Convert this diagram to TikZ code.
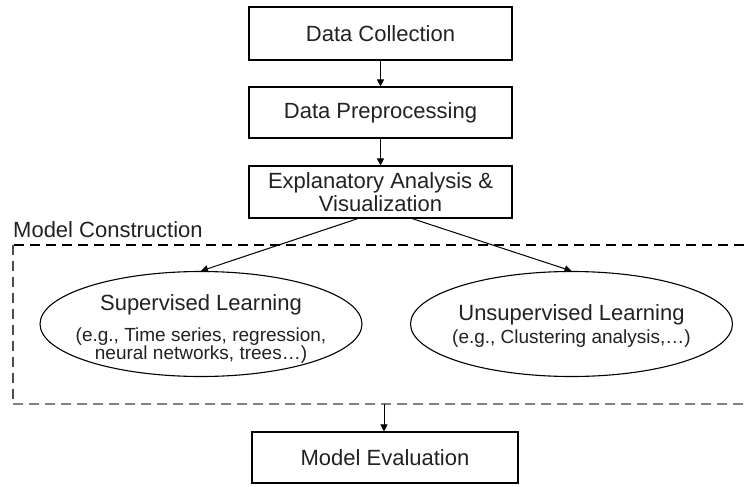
\documentclass[tikz,border=0pt]{standalone}
\usepackage{fontspec}
\setmainfont{Liberation Sans}
\usetikzlibrary{shapes.geometric,arrows.meta,calc}
\definecolor{txt}{HTML}{222222}
\begin{document}
\begin{tikzpicture}[x=1pt,y=-1pt,
  stepbox/.style={draw=black,line width=1.1pt,rectangle,inner sep=0pt,text=txt,
     font=\fontsize{22}{23.5}\selectfont,align=center},
  oval/.style={draw=black,line width=1.1pt,ellipse,inner sep=0pt,minimum width=322pt,minimum height=105pt},
  conn/.style={draw=black,line width=1pt,-{Triangle[length=7pt,width=7pt]}},
  big/.style={font=\fontsize{22}{23}\selectfont,text=txt,align=center,inner sep=0pt},
  small/.style={font=\fontsize{19}{18}\selectfont,text=txt,align=center,inner sep=0pt}]
\useasboundingbox (0,0) rectangle (744,487);
\fill[white] (0,0) rectangle (744,487);

\node[stepbox,minimum width=263pt,minimum height=53pt] (dc) at (380.5,33.5) {Data Collection};
\node[stepbox,minimum width=263pt,minimum height=51pt] (dp) at (380.5,112.5) {Data Preprocessing};
\node[stepbox,minimum width=263pt,minimum height=52pt] (ea) at (380.5,192) {Explanatory Analysis \&\\Visualization};
\node[stepbox,minimum width=266pt,minimum height=51pt] (me) at (385,457.5) {Model Evaluation};

% dashed region
\draw[black,line width=1.2pt,dash pattern=on 10pt off 6pt] (744,245) -- (13,245);
\draw[black!70,line width=1.2pt,dash pattern=on 10pt off 6pt] (13,245) -- (13,404);
\draw[black!50,line width=2pt,dash pattern=on 10pt off 6pt] (13,404) -- (744,404);
\node[anchor=base west,inner sep=0pt,text=txt,font=\fontsize{22}{23}\selectfont] (mc) at (13,237) {Model Construction};

\node[oval] (sup) at (201,324) {};
\node[big] (supt) at (201,305) {Supervised Learning};
\node[small] (sups) at (201,346) {(e.g., Time series, regression,\\neural networks, trees\ldots)};

\node[oval] (uns) at (571.5,324) {};
\node[big] (unst) at (571.5,315) {Unsupervised Learning};
\node[small] (unss) at (571.5,339) {(e.g., Clustering analysis,\ldots)};

\coordinate (eal) at ($(ea.south)+(-22.5,0)$);
\coordinate (ear) at ($(ea.south)+(31.5,0)$);
\coordinate (mcb) at (384,404);

\draw[conn] (dc.south) -- (dp.north);
\draw[conn] (dp.north |- dp.south) -- (ea.north);
\draw[conn] (eal) -- (sup.north);
\draw[conn] (ear) -- (uns.north);
\draw[conn] (mcb) -- (me.north -| mcb);
\end{tikzpicture}
\end{document}
